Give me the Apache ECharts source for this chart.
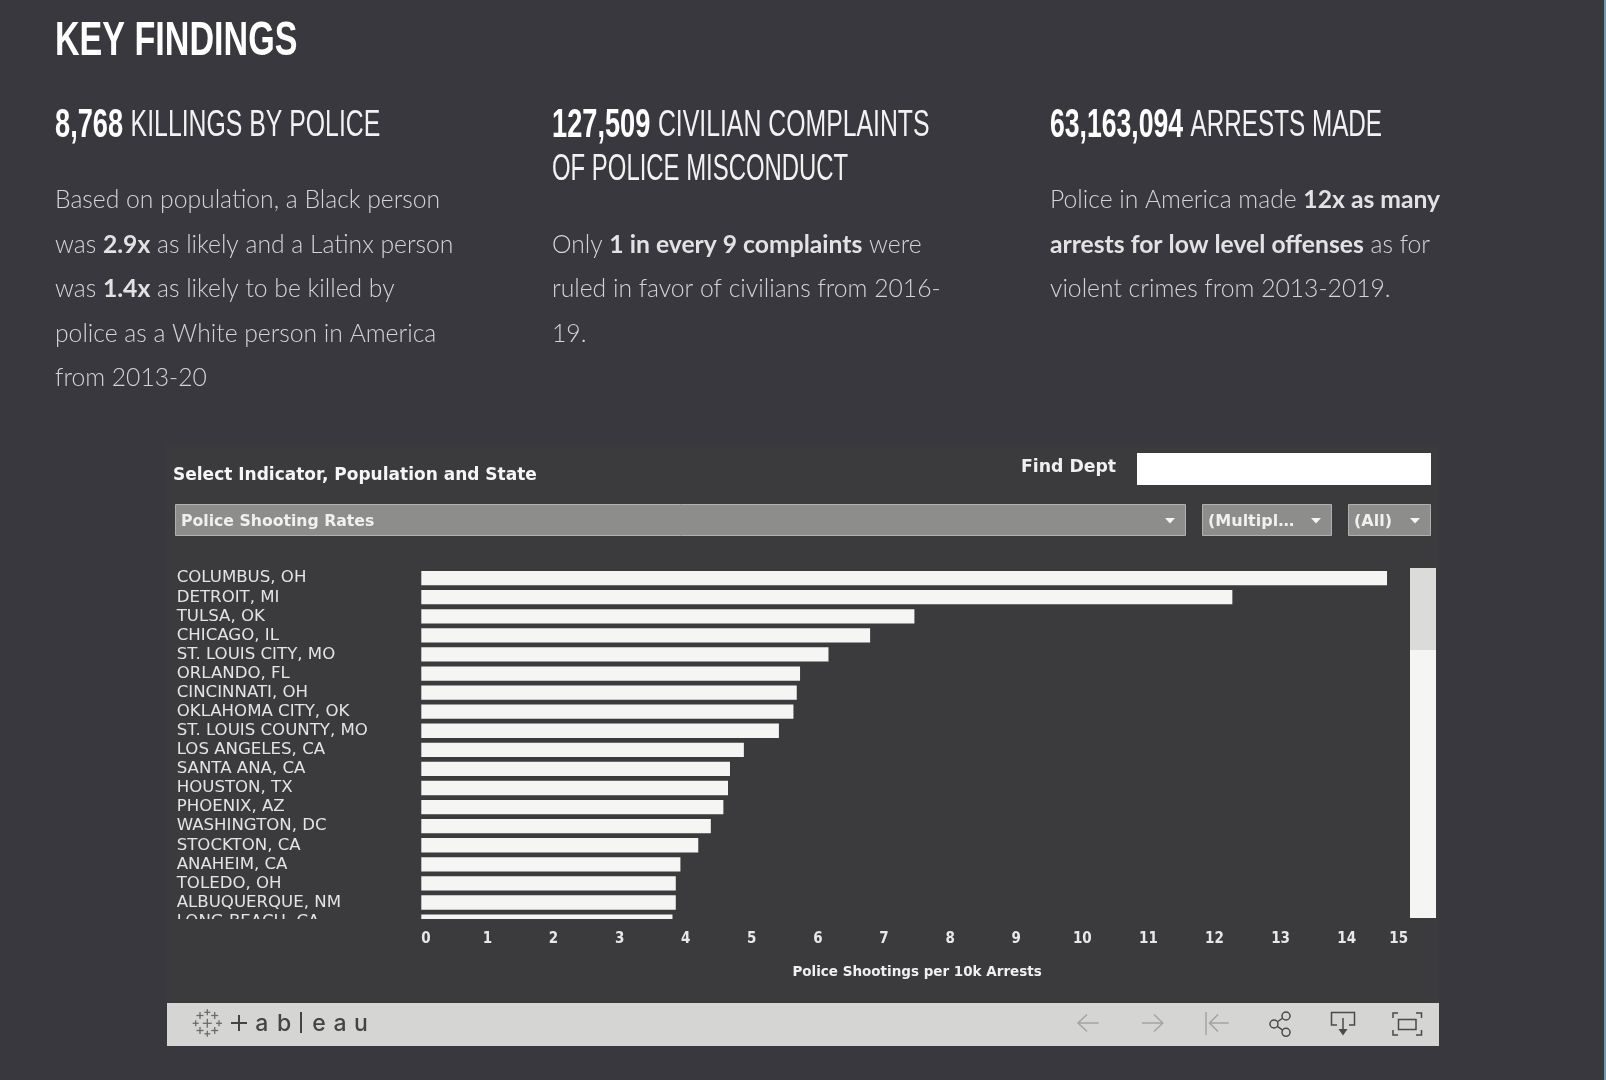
<!DOCTYPE html>
<html>
<head>
<meta charset="utf-8">
<title>Key Findings</title>
<script src="https://cdn.jsdelivr.net/npm/echarts@6/dist/echarts.min.js"></script>
<style>
  html, body { margin: 0; padding: 0; background: #38383e; }
  #main { width: 1606px; height: 1080px; }
</style>
</head>
<body>
<div id="main"></div>
<script>
// values
var departments = ['COLUMBUS, OH', 'DETROIT, MI', 'TULSA, OK', 'CHICAGO, IL', 'ST. LOUIS CITY, MO', 'ORLANDO, FL',
  'CINCINNATI, OH', 'OKLAHOMA CITY, OK', 'ST. LOUIS COUNTY, MO', 'LOS ANGELES, CA', 'SANTA ANA, CA', 'HOUSTON, TX',
  'PHOENIX, AZ', 'WASHINGTON, DC', 'STOCKTON, CA', 'ANAHEIM, CA', 'TOLEDO, OH', 'ALBUQUERQUE, NM', 'LONG BEACH, CA'];
var shootingRates = [14.61, 12.27, 7.46, 6.79, 6.16, 5.73, 5.68, 5.63, 5.41, 4.88, 4.67, 4.64, 4.57, 4.38, 4.19, 3.92, 3.85, 3.85, 3.80];

var headings = [
  ['{b|8,768 }{n|KILLINGS BY POLICE}'],
  ['{b|127,509 }{n|CIVILIAN COMPLAINTS}', '{n|OF POLICE MISCONDUCT}'],
  ['{b|63,163,094 }{n|ARRESTS MADE}']
];
var findings = [
  ['{n|Based on population, a Black person}',
   '{n|was }{b|2.9x}{n| as likely and a Latinx person}',
   '{n|was }{b|1.4x}{n| as likely to be killed by}',
   '{n|police as a White person in America}',
   '{n|from 2013-20}'],
  ['{n|Only }{b|1 in every 9 complaints}{n| were}',
   '{n|ruled in favor of civilians from 2016-}',
   '{n|19.}'],
  ['{n|Police in America made }{b|12x as many}',
   '{b|arrests for low level offenses}{n| as for}',
   '{n|violent crimes from 2013-2019.}']
];

var chart = echarts.init(document.getElementById('main'));

var WIDE = '"Liberation Sans", sans-serif';
var UI = '"DejaVu Sans", sans-serif';
var UI_NARROW = '"DejaVu Sans Condensed", "DejaVu Sans", sans-serif';
var g = [];

function rect(x, y, w, h, fill, stroke, z) {
  g.push({ type: 'rect', silent: true, z: z || 1, shape: { x: x, y: y, width: w, height: h },
    style: { fill: fill, stroke: stroke || null, lineWidth: stroke ? 1 : 0 } });
}
function text(x, y, str, font, fill, extra) {
  var el = { type: 'text', silent: true, z: 5, x: x, y: y,
    style: { text: str, font: font, fill: fill, verticalAlign: 'middle', align: 'left' } };
  for (var k in (extra || {})) el[k] = extra[k];
  g.push(el);
}
function line(pts, color, w) {
  g.push({ type: 'polyline', silent: true, z: 5, shape: { points: pts },
    style: { stroke: color, lineWidth: w || 1.5, fill: null } });
}

// page header, the condensed face is not installed so the sans is squeezed
rect(1604, 0, 2, 1080, '#6f9ab0');
text(55, 42, 'KEY FINDINGS', '700 48px ' + WIDE, '#ffffff', { scaleX: 0.71 });

var colX = [55, 552, 1050];
var headScale = [[0.68], [0.68, 0.655], [0.665]];
var headRich = { b: { font: '700 40px ' + WIDE, fill: '#ffffff' }, n: { font: '400 36.5px ' + WIDE, fill: '#f2f2f2' } };
var bodyRich = { b: { font: '700 24.7px Lato', fill: '#e2e2e2' }, n: { font: '300 24.7px Lato', fill: '#d4d4d4' } };
var bodyTop = [200.5, 245, 200.5];

headings.forEach(function (lines, c) {
  lines.forEach(function (s, i) {
    g.push({ type: 'text', silent: true, z: 5, x: colX[c], y: 125.5 + i * 44.3, scaleX: headScale[c][i],
      style: { text: s, rich: headRich, verticalAlign: 'middle', align: 'left' } });
  });
});
findings.forEach(function (lines, c) {
  lines.forEach(function (s, i) {
    g.push({ type: 'text', silent: true, z: 5, x: colX[c], y: bodyTop[c] + i * 44.4,
      style: { text: s, rich: bodyRich, verticalAlign: 'middle', align: 'left' } });
  });
});

// tableau panel
rect(166, 445, 1273, 558, '#3b3b3d', null, 0);
text(173, 476, 'Select Indicator, Population and State', '700 17px ' + UI, '#f5f5f5');
text(1021, 468, 'Find Dept', '700 17.3px ' + UI, '#f0f0f0');
rect(1137, 453, 294, 32, '#ffffff');

[[175, 1010, 'Police Shooting Rates', 1170, 15.7], [1202, 129, '(Multipl\u2026', 1316, 16], [1348, 82, '(All)', 1415, 16]].forEach(function (d) {
  rect(d[0] + 0.5, 504.5, d[1], 31, '#8d8d8b', '#b0b0ae');
  text(d[0] + 6, 521.5, d[2], '700 ' + d[4] + 'px ' + UI, '#f0f0f0');
  g.push({ type: 'polygon', silent: true, z: 5, shape: { points: [[d[3] - 5, 518], [d[3] + 5, 518], [d[3], 523.5]] },
    style: { fill: '#f5f5f5' } });
});

// scrollbar
rect(1410, 568, 26, 350, '#f5f5f3', null, 6);
rect(1410, 568, 26, 82, '#dbdbd9', null, 6);

// cuts the last row off like the scrolling pane does
rect(170, 919, 1236, 11, '#3b3b3d', null, 6);

// toolbar
rect(167, 1003, 1272, 43, '#d5d5d3');
[[207.3, 1023.3, 4.5], [207.3, 1012.3, 3], [200, 1015.5, 3.5], [214.7, 1015.5, 3.5], [195.7, 1023.3, 3], [219, 1023.3, 3], [200, 1030.5, 3.5], [214.7, 1030.5, 3.5], [207.3, 1033.8, 3]].forEach(function (p) {
  line([[p[0] - p[2], p[1]], [p[0] + p[2], p[1]]], '#6b6b6b', 1.3);
  line([[p[0], p[1] - p[2]], [p[0], p[1] + p[2]]], '#6b6b6b', 1.3);
});
line([[231, 1023], [247, 1023]], '#444444', 2);
line([[239, 1015], [239, 1031]], '#444444', 2);
line([[301, 1012], [301, 1033]], '#444444', 2);
[['a', 261.7], ['b', 284], ['e', 319], ['a', 340], ['u', 361]].forEach(function (l) {
  text(l[1], 1024, l[0], '500 23px Inter', '#444444', {});
  g[g.length - 1].style.align = 'center';
});

var dim = '#a3a3a1', dark = '#4a4a4a';
line([[1078, 1023], [1098.6, 1023]], dim);
line([[1087, 1014.5], [1078, 1023], [1087, 1031.5]], dim);
line([[1142, 1023], [1162.8, 1023]], dim);
line([[1154, 1014.5], [1162.8, 1023], [1154, 1031.5]], dim);
line([[1206, 1012], [1206, 1035]], dim);
line([[1209.5, 1023], [1228.7, 1023]], dim);
line([[1218, 1014.5], [1209.5, 1023], [1218, 1031.5]], dim);

line([[1286, 1016], [1274, 1024], [1286, 1032.3]], dark);
[[1286, 1016], [1274, 1024], [1286, 1032.3]].forEach(function (c) {
  g.push({ type: 'circle', silent: true, z: 6, shape: { cx: c[0], cy: c[1], r: 4 },
    style: { fill: '#d5d5d3', stroke: dark, lineWidth: 1.5 } });
});
line([[1337, 1025], [1331.5, 1025], [1331.5, 1012.5], [1354.5, 1012.5], [1354.5, 1025], [1349, 1025]], dark);
line([[1343, 1018], [1343, 1031]], dark);
g.push({ type: 'polygon', silent: true, z: 5, shape: { points: [[1338.5, 1029], [1347.5, 1029], [1343, 1035.5]] }, style: { fill: dark } });
rect(1398.5, 1019.5, 17.5, 10, null, dark, 5);
g[g.length - 1].style.lineWidth = 1.5;
line([[1393, 1018], [1393, 1013], [1398, 1013]], dark);
line([[1416, 1013], [1421.5, 1013], [1421.5, 1018]], dark);
line([[1393, 1030], [1393, 1035], [1398, 1035]], dark);
line([[1416, 1035], [1421.5, 1035], [1421.5, 1030]], dark);

chart.setOption({
  backgroundColor: '#38383e',
  animation: false,
  grid: { left: 421.3, top: 568.6, width: 991.5, height: 362.5, containLabel: false },
  xAxis: {
    type: 'value', min: 0, max: 15, interval: 1, z: 3,
    name: 'Police Shootings per 10k Arrests',
    nameLocation: 'middle', nameGap: 34,
    nameTextStyle: { color: '#f0f0f0', fontFamily: UI, fontWeight: 700, fontSize: 13.5 },
    axisLine: { show: false }, axisTick: { show: false }, splitLine: { show: false },
    axisLabel: { color: '#e8e8e8', fontFamily: UI_NARROW, fontWeight: 700, fontSize: 15, margin: 1,
      alignMinLabel: 'left', alignMaxLabel: 'right', showMinLabel: true, showMaxLabel: true,
      formatter: function (v) { return v === 15 ? '15 ' : v; } }
  },
  yAxis: {
    type: 'category', inverse: true, data: departments, z: 3,
    axisLine: { show: false }, axisTick: { show: false }, splitLine: { show: false },
    axisLabel: { color: '#e4e4e4', fontFamily: UI, fontSize: 16.6, align: 'left', margin: 244.6, interval: 0,
      padding: [4, 0, 0, 0] }
  },
  series: [{
    type: 'bar', data: shootingRates, barWidth: 14.3, z: 4,
    itemStyle: { color: '#f5f5f3' }, silent: true
  }],
  graphic: { elements: g }
});
</script>
</body>
</html>
